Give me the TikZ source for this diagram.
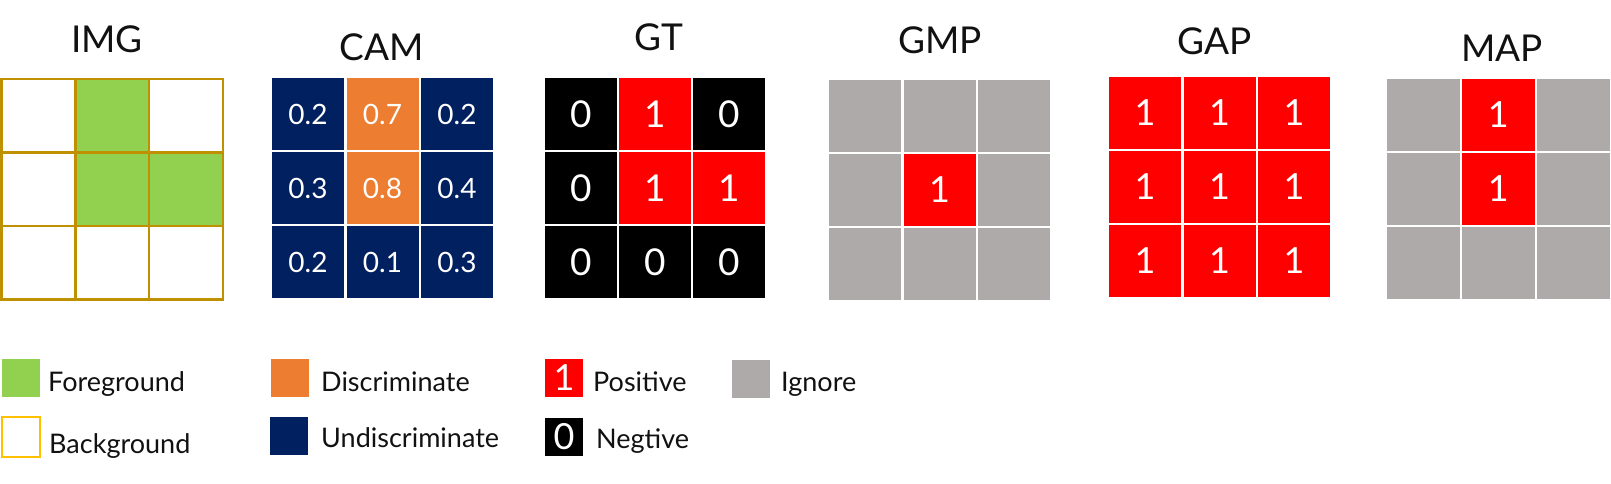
\documentclass[tikz,border=0pt]{standalone}
\usepackage{fontspec}
\setmainfont{Lato}
\definecolor{fgreen}{HTML}{92D050}
\definecolor{dorange}{HTML}{ED7D31}
\definecolor{unavy}{HTML}{002060}
\definecolor{pred}{HTML}{FF0000}
\definecolor{igray}{HTML}{AEAAAA}
\definecolor{imgline}{HTML}{BF9000}
\definecolor{bgline}{HTML}{FFC000}
\definecolor{txt}{HTML}{111111}
\newcommand\mkcell[8]{% name, left, top, w, h, fill, fontsize, text
  \node[cellbox, fill=#6, minimum width=#4pt, minimum height=#5pt, font=\fontsize{#7}{#7}\selectfont] (#1) at ({#2+#4/2},{#3+#5/2}) {#8};}
\begin{document}
\begin{tikzpicture}[x=1pt,y=-1pt,
  cellbox/.style={draw=none, inner sep=0pt, outer sep=0pt, text=white, anchor=center},
  imgcell/.style={draw=imgline, line width=2.5pt, inner sep=0pt, outer sep=0pt, minimum width=73.8pt, minimum height=73.5pt},
  title/.style={anchor=base, text=txt, font=\fontsize{37}{37}\selectfont, inner sep=0pt},
  legtext/.style={anchor=base west, text=txt, font=\fontsize{27}{27}\selectfont, inner sep=0pt},
  swatch/.style={draw=none, inner sep=0pt, outer sep=0pt, minimum width=38pt, minimum height=38pt, text=white, font=\fontsize{36}{36}\selectfont}]
\useasboundingbox (0,0) rectangle (1611,483);
% titles
\node[title] (tIMG) at (107,52) {IMG};
\node[title] (tCAM) at (382,60) {CAM};
\node[title] (tGT) at (659,50) {GT};
\node[title] (tGMP) at (940,53) {GMP};
\node[title] (tGAP) at (1215,54) {GAP};
\node[title] (tMAP) at (1502,61) {MAP};
% IMG grid
\foreach \r/\rowfills in {0/{white,fgreen,white},1/{white,fgreen,fgreen},2/{white,white,white}}{
  \foreach \f [count=\c from 0] in \rowfills {
    \node[imgcell, fill=\f] (img-\r-\c) at ({1.5+73.8*\c+36.9},{79+73.5*\r+36.75}) {};
  }
}
% CAM grid
\foreach \r/\rowdata in {0/{unavy/0.2,dorange/0.7,unavy/0.2},1/{unavy/0.3,dorange/0.8,unavy/0.4},2/{unavy/0.2,unavy/0.1,unavy/0.3}}{
  \foreach \f/\t [count=\c from 0] in \rowdata {
    \mkcell{cam-\r-\c}{272+74.5*\c}{78+74*\r}{72}{72}{\f}{28}{\t}
  }
}
% GT grid
\foreach \r/\rowdata in {0/{black/0,pred/1,black/0},1/{black/0,pred/1,pred/1},2/{black/0,black/0,black/0}}{
  \foreach \f/\t [count=\c from 0] in \rowdata {
    \mkcell{gt-\r-\c}{545+74*\c}{78+74*\r}{72}{72}{\f}{37}{\t}
  }
}
% GMP grid
\foreach \r/\rowdata in {0/{igray/{},igray/{},igray/{}},1/{igray/{},pred/1,igray/{}},2/{igray/{},igray/{},igray/{}}}{
  \foreach \f/\t [count=\c from 0] in \rowdata {
    \mkcell{gmp-\r-\c}{829+74.5*\c}{80+74*\r}{72}{72}{\f}{36}{\t}
  }
}
% GAP grid
\foreach \r in {0,1,2}{
  \foreach \c in {0,1,2}{
    \mkcell{gap-\r-\c}{1109+74.5*\c}{77+74*\r}{72}{72}{pred}{36}{1}
  }
}
% MAP grid
\foreach \r/\rowdata in {0/{igray/{},pred/1,igray/{}},1/{igray/{},pred/1,igray/{}},2/{igray/{},igray/{},igray/{}}}{
  \foreach \f/\t [count=\c from 0] in \rowdata {
    \mkcell{map-\r-\c}{1387+75*\c}{79+74*\r}{72.5}{72}{\f}{36}{\t}
  }
}
% legend
\node[swatch, fill=fgreen] (sFg) at (21,378) {};
\node[legtext] (lFg) at (48,391) {Foreground};
\node[draw=bgline, line width=2pt, inner sep=0pt, minimum width=38pt, minimum height=40pt] (sBg) at (21,436.5) {};
\node[legtext] (lBg) at (49,453) {Background};
\node[swatch, fill=dorange] (sDi) at (290,378) {};
\node[legtext] (lDi) at (321,391) {Discriminate};
\node[swatch, fill=unavy] (sUn) at (289,436) {};
\node[legtext] (lUn) at (321,447) {Undiscriminate};
\node[swatch, fill=pred] (sPo) at (564,378) {1};
\node[legtext] (lPo) at (593,391) {Positive};
\node[swatch, fill=black] (sNe) at (564,437) {0};
\node[legtext] (lNe) at (596,448) {Negtive};
\node[swatch, fill=igray] (sIg) at (751,378.5) {};
\node[legtext] (lIg) at (781,391) {Ignore};
\end{tikzpicture}
\end{document}
